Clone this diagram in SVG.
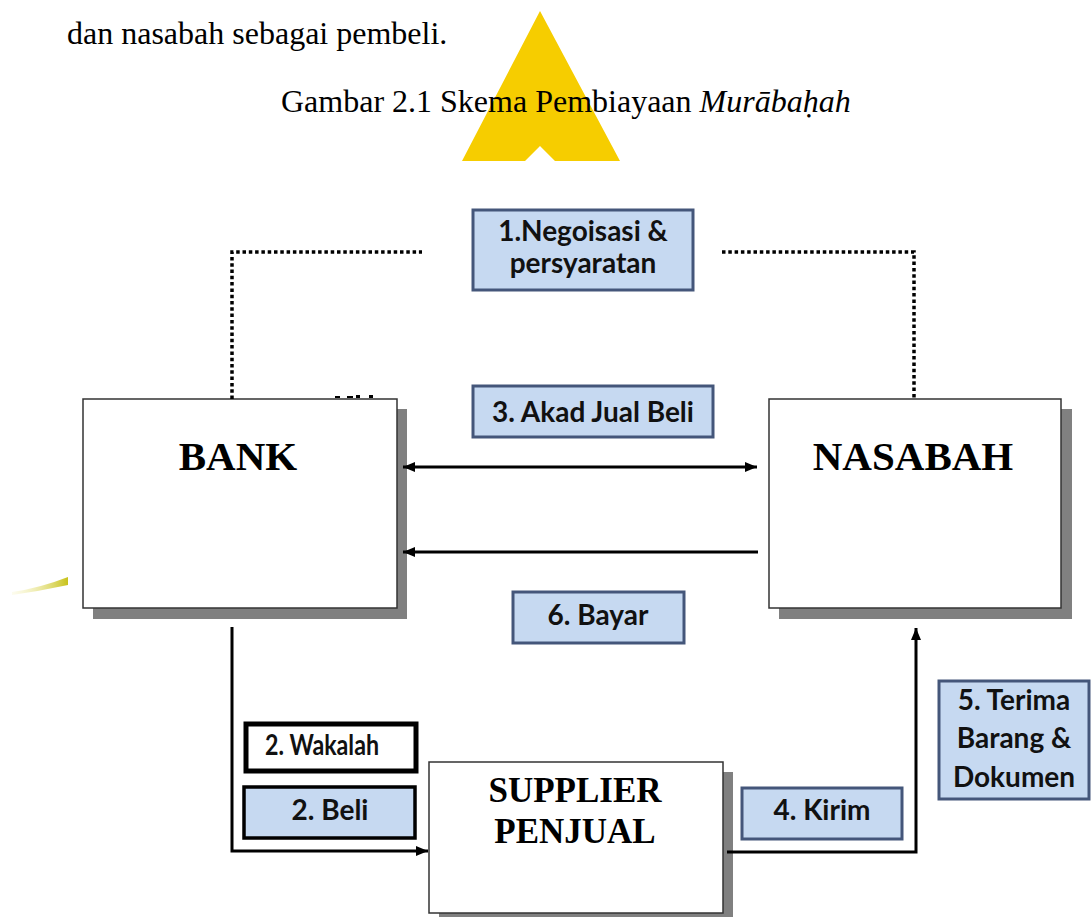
<svg xmlns="http://www.w3.org/2000/svg" width="1091" height="917" viewBox="0 0 1091 917">
<defs>
<marker id="ah" viewBox="0 0 12 10" refX="12" refY="5" markerWidth="4" markerHeight="3.4" orient="auto-start-reverse" markerUnits="strokeWidth">
<path d="M0,0 L12,5 L0,10 z" fill="#000"/>
</marker>
<linearGradient id="sw" x1="0" x2="1" y1="0" y2="0">
<stop offset="0" stop-color="#f4f0b0" stop-opacity="0.2"/>
<stop offset="1" stop-color="#c8c21a"/>
</linearGradient>
<style>
.cap{font-family:"Liberation Serif","Times New Roman",serif;font-size:32px;fill:#000}
.node{fill:#fff;stroke:#333;stroke-width:1.5}
.shadow{fill:#808080}
.ntext{font-family:"Liberation Serif","Times New Roman",serif;font-weight:bold;fill:#000;text-anchor:middle}
.lbl{fill:#c6d9f1;stroke:#44567a;stroke-width:3}
.ltext{font-family:Lato,"Liberation Sans",sans-serif;font-weight:bold;fill:#111;text-anchor:middle;font-size:28px}
.dot{fill:none;stroke:#000;stroke-width:3.5;stroke-dasharray:3.5 2.8}
.conn{fill:none;stroke:#000;stroke-width:3}
</style>
</defs>
<rect width="1091" height="917" fill="#fff"/>
<!-- watermark -->
<path d="M540,11 L462,161 L620,161 Z M540,146 L525,161 L555,161 Z" fill="#f6cd00" fill-rule="evenodd"/>
<path d="M12,592 Q40,588 68,577 L68,585 Q40,591 12,595 Z" fill="url(#sw)"/>
<!-- caption -->
<text class="cap" x="67" y="44">dan nasabah sebagai pembeli.</text>
<text class="cap" x="281" y="112">Gambar 2.1 Skema Pembiayaan <tspan font-style="italic">Murābaḥah</tspan></text>

<g id="bank">
<rect class="shadow" x="93" y="409" width="314" height="210"/>
<rect class="node" x="83" y="399" width="314" height="209"/>
<text class="ntext" x="238" y="470" font-size="41">BANK</text>
<rect x="335" y="396" width="5" height="2"/><rect x="347" y="396" width="6" height="2"/><rect x="356" y="395" width="4" height="3"/><rect x="369" y="395" width="4" height="3"/>
</g>
<g id="nasabah">
<rect class="shadow" x="779" y="409" width="293" height="210"/>
<rect class="node" x="769" y="399" width="292" height="209"/>
<text class="ntext" x="913" y="470" font-size="41">NASABAH</text>
</g>
<g id="supplier">
<rect class="shadow" x="439" y="772" width="294" height="150"/>
<rect class="node" x="429" y="762" width="294" height="151"/>
<text class="ntext" x="575" y="802" font-size="35">SUPPLIER</text>
<text class="ntext" x="575" y="843" font-size="35">PENJUAL</text>
</g>

<g id="connectors">
<path class="dot" d="M232,399 V252 H422"/>
<path class="dot" d="M722,252 H914 V399"/>
<path class="conn" d="M403,467 H757" marker-start="url(#ah)" marker-end="url(#ah)"/>
<path class="conn" d="M758,552 H403" marker-end="url(#ah)"/>
<path class="conn" d="M232,627 V851 H428" marker-end="url(#ah)"/>
<path class="conn" d="M727,852 H916 V628" marker-end="url(#ah)"/>
</g>

<g id="lbl1">
<rect class="lbl" x="473" y="210" width="220" height="80"/>
<text class="ltext" x="583" y="241" font-size="27">1.Negoisasi &amp;</text>
<text class="ltext" x="583" y="273" font-size="27">persyaratan</text>
</g>
<g id="lbl3">
<rect class="lbl" x="473" y="386" width="240" height="51"/>
<text class="ltext" x="593" y="422">3. Akad Jual Beli</text>
</g>
<g id="lbl6">
<rect class="lbl" x="513" y="592" width="171" height="51"/>
<text class="ltext" x="598" y="625">6. Bayar</text>
</g>
<g id="lbl2w">
<rect x="246" y="724" width="170" height="47" fill="#fff" stroke="#000" stroke-width="5"/>
<text class="ltext" x="265" y="755" font-size="19" style="text-anchor:start" textLength="114" lengthAdjust="spacingAndGlyphs">2. Wakalah</text>
</g>
<g id="lbl2b">
<rect x="244" y="787" width="171" height="51" fill="#c6d9f1" stroke="#000" stroke-width="3.5"/>
<text class="ltext" x="330" y="820">2. Beli</text>
</g>
<g id="lbl4">
<rect class="lbl" x="742" y="788" width="160" height="51"/>
<text class="ltext" x="822" y="820">4. Kirim</text>
</g>
<g id="lbl5">
<rect class="lbl" x="939" y="681" width="150" height="118"/>
<text class="ltext" x="1014" y="710">5. Terima</text>
<text class="ltext" x="1014" y="748">Barang &amp;</text>
<text class="ltext" x="1014" y="787">Dokumen</text>
</g>
</svg>
